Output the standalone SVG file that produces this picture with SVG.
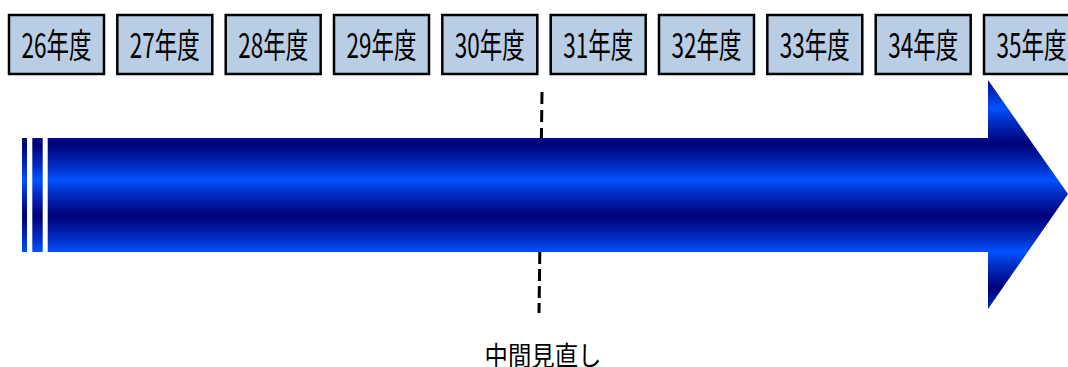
<svg xmlns="http://www.w3.org/2000/svg" width="1068" height="367" viewBox="0 0 1068 367">
  <style>
    .yr rect { fill: #b9cde4; stroke: #000; stroke-width: 2.5; }
    .yr text { font-family: "Noto Sans CJK JP", "Noto Sans", sans-serif; font-size: 34px; fill: #000; text-anchor: middle; }
    .lbl { font-family: "Noto Sans CJK JP", "Noto Sans", sans-serif; font-size: 27px; fill: #000; text-anchor: middle; }
  </style>
  <defs>
    <linearGradient id="band" gradientUnits="userSpaceOnUse" x1="0" y1="108" x2="0" y2="144" spreadMethod="reflect">
      <stop offset="0" stop-color="#0052ff"/>
      <stop offset="0.35" stop-color="#0030c8"/>
      <stop offset="1" stop-color="#000078"/>
    </linearGradient>
  </defs>
  <rect width="1068" height="367" fill="#ffffff"/>

  <g id="connectors">
    <line x1="542" y1="92" x2="541.4" y2="138" stroke="#000" stroke-width="3" stroke-dasharray="12,6"/>
    <line x1="539.8" y1="252" x2="539" y2="313" stroke="#000" stroke-width="3" stroke-dasharray="12,5"/>
  </g>

  <g id="arrow">
    <rect x="22" y="138" width="5" height="114" fill="url(#band)"/>
    <rect x="32.3" y="138" width="10.4" height="114" fill="url(#band)"/>
    <polygon points="47.7,138 988,138 988,80 1068,194 988,309 988,252 47.7,252" fill="url(#band)"/>
  </g>

  <g id="y26" class="yr"><rect x="9" y="15" width="95" height="59"/><text x="56.5" y="58" textLength="70" lengthAdjust="spacingAndGlyphs">26年度</text></g>
  <g id="y27" class="yr"><rect x="117.3" y="15" width="95" height="59"/><text x="164.8" y="58" textLength="70" lengthAdjust="spacingAndGlyphs">27年度</text></g>
  <g id="y28" class="yr"><rect x="225.7" y="15" width="95" height="59"/><text x="273.2" y="58" textLength="70" lengthAdjust="spacingAndGlyphs">28年度</text></g>
  <g id="y29" class="yr"><rect x="334" y="15" width="95" height="59"/><text x="381.5" y="58" textLength="70" lengthAdjust="spacingAndGlyphs">29年度</text></g>
  <g id="y30" class="yr"><rect x="442.3" y="15" width="95" height="59"/><text x="489.8" y="58" textLength="70" lengthAdjust="spacingAndGlyphs">30年度</text></g>
  <g id="y31" class="yr"><rect x="550.7" y="15" width="95" height="59"/><text x="598.2" y="58" textLength="70" lengthAdjust="spacingAndGlyphs">31年度</text></g>
  <g id="y32" class="yr"><rect x="659" y="15" width="95" height="59"/><text x="706.5" y="58" textLength="70" lengthAdjust="spacingAndGlyphs">32年度</text></g>
  <g id="y33" class="yr"><rect x="767.3" y="15" width="95" height="59"/><text x="814.8" y="58" textLength="70" lengthAdjust="spacingAndGlyphs">33年度</text></g>
  <g id="y34" class="yr"><rect x="875.7" y="15" width="95" height="59"/><text x="923.2" y="58" textLength="70" lengthAdjust="spacingAndGlyphs">34年度</text></g>
  <g id="y35" class="yr"><rect x="984" y="15" width="95" height="59"/><text x="1031.5" y="58" textLength="70" lengthAdjust="spacingAndGlyphs">35年度</text></g>

  <g id="label"><text class="lbl" x="543" y="366" textLength="117" lengthAdjust="spacingAndGlyphs">中間見直し</text></g>
</svg>
